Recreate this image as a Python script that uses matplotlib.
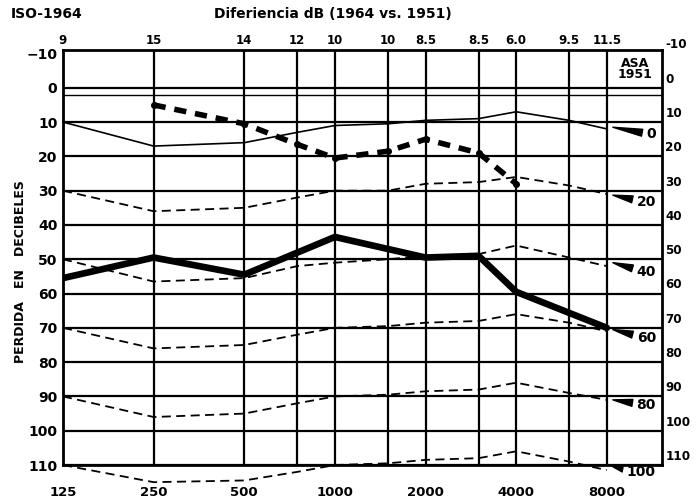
import matplotlib.pyplot as plt
from matplotlib.ticker import NullLocator

plt.rcParams['font.family'] = ['DejaVu Sans']
plt.rcParams['font.weight'] = 'bold'

# frequencies on the chart (Hz) and ISO-ASA differences printed on top
freqs = [125, 250, 500, 750, 1000, 1500, 2000, 3000, 4000, 6000, 8000]
diff_labels = ['9', '15', '14', '12', '10', '10', '8.5', '8.5', '6.0', '9.5', '11.5']
octave_freqs = [125, 250, 500, 1000, 2000, 4000, 8000]
db_levels = [0, 10, 20, 30, 40, 50, 60, 70, 80, 90, 100, 110]
left_ticks = [-10, 0, 10, 20, 30, 40, 50, 60, 70, 80, 90, 100, 110]

# ASA 1951 levels re-drawn on the ISO 1964 scale
asa_0 = [10, 17, 16, 13, 11, 10.5, 9.5, 9, 7, 9.5, 12]
asa_20 = [30, 36, 35, 32, 30, 30, 28, 27.5, 26, 28.5, 31]
asa_40 = [50, 56.5, 55.5, 52, 51, 50, 49, 48.5, 46, 49.5, 52]
asa_60 = [70, 76, 75, 72, 70, 69.5, 68.5, 68, 66, 68.5, 71]
asa_80 = [90, 96, 95, 92, 90, 89.5, 88.5, 88, 86, 89, 91]
asa_100 = [110, 115, 114.5, 112, 110, 109.5, 108.5, 108, 106, 109, 111.5]

# patient curves
thick_freqs = [125, 250, 500, 1000, 2000, 3000, 4000, 8000]
thick_vals = [55.5, 49.5, 54.5, 43.5, 49.5, 49, 59.5, 70]
heavy_freqs = [250, 500, 750, 1000, 1500, 2000, 3000, 4000]
heavy_vals = [5, 10.5, 16.5, 20.5, 18.5, 15, 19, 28]

# labels on the right-hand arrows
arrow_labels = ['0', '20', '40', '60', '80', '100']
arrow_tail = [11.5, 31.3, 51, 70.5, 91, 110.5]
arrow_text_y = [13.6, 33.4, 53.8, 73, 92.5, 112]

fig = plt.figure(figsize=(6.96, 5.03), dpi=100)
ax = fig.add_axes([0.0905, 0.0755, 0.8605, 0.825])
ax.set_xscale('log')
ax.set_xlim(125, 12190)
ax.set_ylim(110, -11)

# grid
for f in freqs:
    ax.axvline(f, color='black', lw=1.6, zorder=1)
for d in db_levels:
    ax.axhline(d, color='black', lw=1.6, zorder=1)
ax.axhline(2, color='black', lw=1.0, zorder=1)
for s in ax.spines.values():
    s.set_linewidth(2.0)

# ASA curves
ax.plot(freqs, asa_0, color='black', lw=1.2, clip_on=False, zorder=2)
for vals in [asa_20, asa_40, asa_60, asa_80, asa_100]:
    ax.plot(freqs, vals, color='black', lw=1.3, dashes=(5, 3), clip_on=False, zorder=2)

# patient curves
ax.plot(thick_freqs, thick_vals, color='black', lw=4.8, solid_capstyle='round', zorder=3)
ax.plot(heavy_freqs, heavy_vals, color='black', lw=4, dashes=(2.2, 1.6), zorder=3)
ax.plot(heavy_freqs, heavy_vals, 'o', color='black', ms=4, zorder=3)

# ticks
ax.xaxis.set_minor_locator(NullLocator())
ax.set_xticks(octave_freqs)
ax.set_xticklabels([str(f) for f in octave_freqs], fontsize=9.5, fontweight='bold')
ax.set_yticks(left_ticks)
ax.set_yticklabels([str(v).replace('-', '\u2212') for v in left_ticks], fontsize=10, fontweight='bold')
ax.tick_params(axis='x', length=0, pad=15)
ax.tick_params(axis='y', length=0, pad=4)

# right-hand (ASA 1951) scale
ytr = ax.get_yaxis_transform()
for v in left_ticks:
    ax.text(1.006, v - 2.5, str(v), transform=ytr, ha='left', va='center',
            fontsize=9.5, fontweight='bold', fontstretch='condensed', clip_on=False)

# differences on top
xtr = ax.get_xaxis_transform()
for f, lab in zip(freqs, diff_labels):
    ax.text(f, 1.022, lab, transform=xtr, ha='center', va='center',
            fontsize=8.5, fontweight='bold', clip_on=False)

# arrows to the ASA curves
for lab, ty, yy in zip(arrow_labels, arrow_tail, arrow_text_y):
    ax.annotate(lab, xy=(0.918, ty), xycoords=ytr, xytext=(0.99, yy), textcoords=ytr,
                ha='right', va='center', fontsize=10, fontweight='bold',
                arrowprops=dict(arrowstyle='wedge,tail_width=0.5', color='black',
                                shrinkA=1, shrinkB=0), annotation_clip=False)

ax.text(0.955, -5.5, 'ASA\n1951', transform=ytr, ha='center', va='center',
        fontsize=9, fontweight='bold', linespacing=0.8)

fig.text(0.015, 0.972, 'ISO-1964', fontsize=10, fontweight='bold', ha='left', va='center')
fig.text(0.478, 0.972, 'Diferiencia dB (1964 vs. 1951)', fontsize=10, fontweight='bold',
         ha='center', va='center')
fig.text(0.03, 0.46, 'PERDIDA   EN   DECIBELES', rotation=90, fontsize=9,
         fontweight='bold', ha='center', va='center')

fig.savefig('out.png', dpi=100)
